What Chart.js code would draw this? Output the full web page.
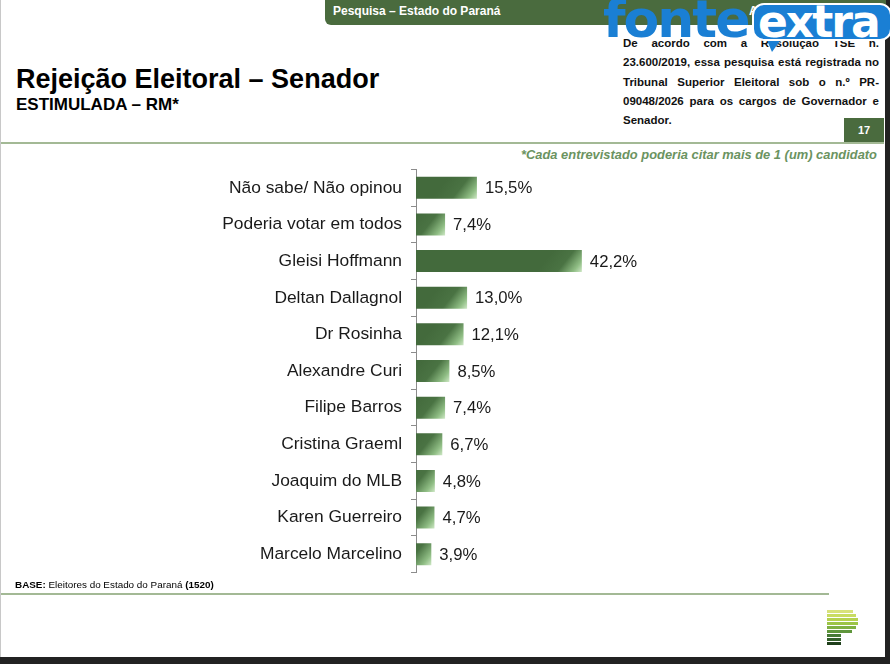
<!DOCTYPE html>
<html lang="pt-br">
<head>
    <meta charset="UTF-8">
    <title>Rejeição Eleitoral – Senador</title>
    <script src="https://cdn.jsdelivr.net/npm/chart.js"></script>
    <style>
        html, body { margin: 0; padding: 0; background: #222; }
        body { width: 890px; height: 664px; position: relative; overflow: hidden; font-family: "Liberation Sans", Arial, sans-serif; }
        .slide { position: absolute; left: 0; top: 0; width: 885px; height: 657px; background: #fff; border-left: 1px solid #c8c8c8; box-sizing: border-box; }
        .tab { position: absolute; left: 324px; top: 0; width: 561px; height: 25px; background: #4a6b3e; border-bottom-left-radius: 6px; color: #fff; font-size: 12px; font-weight: bold; }
        .tab span { position: absolute; top: 4px; }
        h1 { position: absolute; left: 15px; top: 64px; margin: 0; font-size: 27px; font-weight: bold; color: #000; }
        h2 { position: absolute; left: 15px; top: 95px; margin: 0; font-size: 17px; font-weight: bold; color: #000; }
        .registro { position: absolute; left: 622px; top: 34px; width: 256px; font-size: 11.5px; font-weight: bold; line-height: 19.3px; color: #111; }
        .registro div { text-align: justify; text-align-last: justify; white-space: nowrap; }
        .registro div.ult { text-align-last: left; }
        .pagina { position: absolute; left: 843px; top: 118px; width: 40px; height: 25px; background: #4a6b3e; color: #fff; font-size: 11px; font-weight: bold; text-align: center; line-height: 25px; }
        .linha { position: absolute; left: 0; height: 2px; background: #a3b995; }
        .nota { position: absolute; right: 8px; top: 147px; font-size: 12.9px; font-weight: bold; font-style: italic; color: #6b9360; }
        .base { position: absolute; left: 14px; top: 579px; font-size: 9.9px; color: #000; }
        #grafico { position: absolute; left: 0; top: 150px; }
        .logo-p { position: absolute; left: 826px; top: 610px; }
        .logo-p div { height: 3px; margin-bottom: 1px; }
        .marca { position: absolute; left: 603px; top: -11px; font-family: "DejaVu Sans", sans-serif; font-weight: bold; font-size: 52px; letter-spacing: -2px; color: #1a7fd4; }
        .bolha { position: absolute; left: 752px; top: 3px; width: 140px; height: 38px; background: #1a7fd4; border: 2px solid #fff; border-radius: 12px; color: #fff; font-family: "DejaVu Sans", sans-serif; font-weight: bold; font-size: 44px; line-height: 34px; letter-spacing: -2px; text-indent: 4px; box-sizing: border-box; }
        .rabo { position: absolute; left: 766px; top: 38px; width: 0; height: 0; border-left: 6px solid transparent; border-right: 10px solid transparent; border-top: 14px solid #1a7fd4; }
    </style>
</head>
<body>
    <div class="slide">
        <div class="tab"><span style="left:8px">Pesquisa – Estado do Paraná</span><span style="left:424px">A</span></div>
        <h1>Rejeição Eleitoral – Senador</h1>
        <h2>ESTIMULADA – RM*</h2>
        <div class="registro">
            <div>De acordo com a Resolução TSE n.</div>
            <div>23.600/2019, essa pesquisa está registrada no</div>
            <div>Tribunal Superior Eleitoral sob o n.º PR-</div>
            <div>09048/2026 para os cargos de Governador e</div>
            <div class="ult">Senador.</div>
        </div>
        <div class="pagina">17</div>
        <div class="linha" style="top:142px; width:883px"></div>
        <div class="nota">*Cada entrevistado poderia citar mais de 1 (um) candidato</div>
        <canvas id="grafico" width="880" height="442" style="width:880px;height:442px"></canvas>
        <div class="base"><b>BASE:</b> Eleitores do Estado do Paraná <b>(1520)</b></div>
        <div class="linha" style="top:593px; width:828px"></div>
        <div class="logo-p">
            <div style="width:26px;background:#d8e27a"></div>
            <div style="width:29px;background:#c9dc62"></div>
            <div style="width:31px;background:#b6d24f"></div>
            <div style="width:31px;background:#9cc446"></div>
            <div style="width:29px;background:#7fb042"></div>
            <div style="width:25px;background:#5f963c"></div>
            <div style="width:14px;background:#467a36"></div>
            <div style="width:14px;background:#335f2b"></div>
            <div style="width:14px;background:#1f3f1b"></div>
        </div>
    </div>
    <div class="marca">fonte</div>
    <div class="rabo"></div>
    <div class="bolha">extra</div>

    <script>
        const candidatos = ["Não sabe/ Não opinou", "Poderia votar em todos", "Gleisi Hoffmann", "Deltan Dallagnol", "Dr Rosinha", "Alexandre Curi", "Filipe Barros", "Cristina Graeml", "Joaquim do MLB", "Karen Guerreiro", "Marcelo Marcelino"];
        const rejeicao = [15.5, 7.4, 42.2, 13.0, 12.1, 8.5, 7.4, 6.7, 4.8, 4.7, 3.9];

        // gradiente de cada barra: verde escuro com brilho na ponta
        function corBarra(context) {
            const chart = context.chart;
            const sx = chart.scales.x, sy = chart.scales.y;
            if (!sx || !sy || context.dataIndex === undefined) return "#466d3f";
            const fim = sx.getPixelForValue(context.raw);
            const meio = sy.getPixelForValue(context.dataIndex);
            if (!isFinite(fim) || !isFinite(meio)) return "#466d3f";
            const g = chart.ctx.createLinearGradient(fim - 28, meio - 11, fim, meio + 11);
            g.addColorStop(0, "#436a3c");
            g.addColorStop(0.45, "#4a7343");
            g.addColorStop(0.8, "#8fbd84");
            g.addColorStop(1, "#cfe8c6");
            return g;
        }

        const rotulos = {
            id: "rotulos",
            afterDatasetsDraw(chart) {
                const ctx = chart.ctx;
                ctx.save();
                ctx.font = "16.7px 'Liberation Sans', Arial";
                ctx.fillStyle = "#1a1a1a";
                ctx.textBaseline = "middle";
                chart.getDatasetMeta(0).data.forEach((bar, i) => {
                    ctx.fillText(rejeicao[i].toFixed(1).replace(".", ",") + "%", bar.x + 8, bar.y + 1);
                });
                ctx.restore();
            }
        };

        new Chart(document.getElementById("grafico"), {
            type: "bar",
            data: {
                labels: candidatos,
                datasets: [{
                    data: rejeicao,
                    backgroundColor: corBarra,
                    barPercentage: 0.6,
                    categoryPercentage: 1.0
                }]
            },
            options: {
                indexAxis: "y",
                responsive: false,
                animation: false,
                layout: { padding: { top: 7, bottom: 8, right: 72 } },
                plugins: { legend: { display: false }, tooltip: { enabled: false } },
                scales: {
                    x: { display: false, min: 0, max: 100 },
                    y: {
                        afterFit(scale) { scale.width = 415; },
                        border: { display: true, color: "#8c8c8c", width: 1 },
                        grid: { offset: true, drawOnChartArea: false, drawTicks: true, tickLength: 5, color: "#8c8c8c" },
                        ticks: { padding: 9, color: "#1a1a1a", font: { family: "'Liberation Sans', Arial", size: 17.4 } }
                    }
                }
            },
            plugins: [rotulos]
        });
    </script>
</body>
</html>
